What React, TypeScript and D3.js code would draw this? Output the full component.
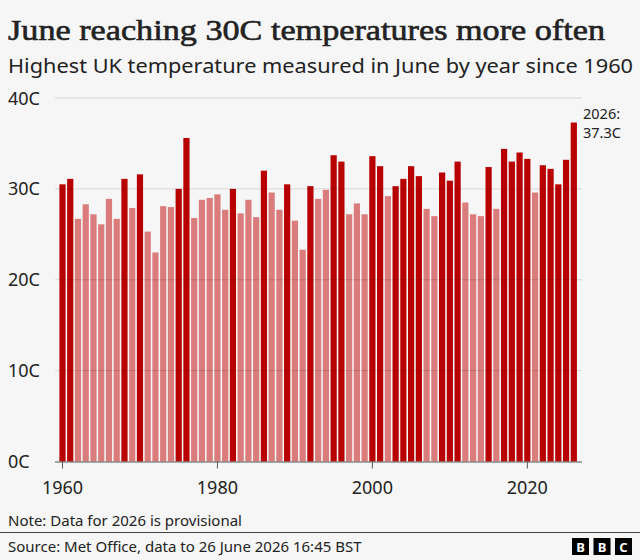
import { useEffect, useRef } from 'react';
import * as d3 from 'd3';

// years 1960 -> 2026
const years: number[] = d3.range(1960, 2027);

// highest June temperature per year (C)
const temps: number[] = [
  30.5, 31.1, 26.7, 28.3, 27.2, 26.1, 28.9, 26.7, 31.1, 27.9,
  31.6, 25.3, 23.0, 28.1, 28.0, 30.0, 35.6, 26.8, 28.8, 29.0,
  29.4, 27.7, 30.0, 27.3, 28.8, 26.9, 32.0, 29.6, 27.7, 30.5,
  26.5, 23.3, 30.3, 28.9, 29.9, 33.7, 33.0, 27.2, 28.4, 27.2,
  33.6, 32.5, 29.2, 30.3, 31.1, 32.5, 31.4, 27.8, 27.0, 31.8,
  30.9, 33.0, 28.5, 27.2, 27.0, 32.4, 27.8, 34.4, 33.0, 34.0,
  33.3, 29.6, 32.6, 32.2, 30.5, 33.2, 37.3,
];

const yTicks: number[] = [0, 10, 20, 30, 40];
const xTicks: number[] = [1960, 1980, 2000, 2020];

const SANS = '"Noto Sans", "DejaVu Sans", sans-serif';

function App() {
  const svgRef = useRef<SVGSVGElement>(null);

  useEffect(() => {
    const W = 640;
    const H = 560;
    const svg = d3.select(svgRef.current).attr('width', W).attr('height', H);
    svg.selectAll('*').remove();

    svg.append('rect').attr('width', W).attr('height', H).attr('fill', '#f6f6f6');

    // titles
    svg
      .append('text')
      .attr('x', 8)
      .attr('y', 40)
      .attr('font-family', '"Liberation Serif", "DejaVu Serif", serif')
      .attr('font-size', 30)
      .attr('fill', '#222')
      .attr('stroke', '#222')
      .attr('stroke-width', 0.6)
      .attr('textLength', 597)
      .attr('lengthAdjust', 'spacingAndGlyphs')
      .text('June reaching 30C temperatures more often');

    svg
      .append('text')
      .attr('x', 8)
      .attr('y', 73)
      .attr('font-family', SANS)
      .attr('font-size', 20)
      .attr('fill', '#222')
      .attr('textLength', 625)
      .attr('lengthAdjust', 'spacingAndGlyphs')
      .text('Highest UK temperature measured in June by year since 1960');

    const x = d3
      .scaleBand<number>()
      .domain(years)
      .range([59, 577.3])
      .paddingInner(0.2)
      .paddingOuter(0.05);

    const y = d3.scaleLinear().domain([0, 40]).range([461.5, 98]);

    // bars
    svg
      .append('g')
      .selectAll('rect')
      .data(years)
      .enter()
      .append('rect')
      .attr('x', d => x(d)!)
      .attr('width', x.bandwidth())
      .attr('y', (d, i) => y(temps[i]))
      .attr('height', (d, i) => y(0) - y(temps[i]))
      .attr('fill', (d, i) => (temps[i] >= 30 ? '#b80000' : '#db7c7c'));

    // gridlines on top of bars, faint
    svg
      .append('g')
      .selectAll('line')
      .data(yTicks.filter(t => t > 0))
      .enter()
      .append('line')
      .attr('x1', 55)
      .attr('x2', 582)
      .attr('y1', d => y(d))
      .attr('y2', d => y(d))
      .attr('stroke', 'rgba(0,0,0,0.12)')
      .attr('stroke-width', 1);

    // y labels
    svg
      .append('g')
      .selectAll('text')
      .data(yTicks)
      .enter()
      .append('text')
      .attr('x', 8)
      .attr('y', d => y(d) + 6.5)
      .attr('font-family', SANS)
      .attr('font-size', 18)
      .attr('fill', '#222')
      .text(d => `${d}C`);

    // x axis
    const axis = svg.append('g');
    axis
      .append('line')
      .attr('x1', 55)
      .attr('x2', 582)
      .attr('y1', y(0) + 0.5)
      .attr('y2', y(0) + 0.5)
      .attr('stroke', '#555')
      .attr('stroke-width', 1.2);
    const tx = (d: number) => x(d)! + x.bandwidth() / 2;
    axis
      .selectAll('line.tick')
      .data(xTicks)
      .enter()
      .append('line')
      .attr('class', 'tick')
      .attr('x1', tx)
      .attr('x2', tx)
      .attr('y1', y(0))
      .attr('y2', y(0) + 7)
      .attr('stroke', '#555');
    axis
      .selectAll('text')
      .data(xTicks)
      .enter()
      .append('text')
      .attr('x', tx)
      .attr('y', 494)
      .attr('text-anchor', 'middle')
      .attr('font-family', SANS)
      .attr('font-size', 18)
      .attr('fill', '#222')
      .text(d => d);

    // annotation for last bar
    const last = temps[temps.length - 1];
    svg
      .append('text')
      .attr('x', 583)
      .attr('y', 119)
      .attr('font-family', SANS)
      .attr('font-size', 14.5)
      .attr('fill', '#222')
      .text(`${years[years.length - 1]}:`);
    svg
      .append('text')
      .attr('x', 583)
      .attr('y', 138)
      .attr('font-family', SANS)
      .attr('font-size', 14.5)
      .attr('fill', '#222')
      .text(`${last}C`);

    // footer
    svg
      .append('text')
      .attr('x', 8)
      .attr('y', 526)
      .attr('font-family', SANS)
      .attr('font-size', 15)
      .attr('fill', '#222')
      .text('Note: Data for 2026 is provisional');

    svg
      .append('line')
      .attr('x1', 0)
      .attr('x2', W)
      .attr('y1', 532.5)
      .attr('y2', 532.5)
      .attr('stroke', '#444')
      .attr('stroke-width', 1);

    svg
      .append('text')
      .attr('x', 8)
      .attr('y', 552)
      .attr('font-family', SANS)
      .attr('font-size', 15)
      .attr('fill', '#222')
      .text('Source: Met Office, data to 26 June 2026 16:45 BST');

    // BBC blocks
    const logo = svg.append('g');
    ['B', 'B', 'C'].forEach((letter, i) => {
      const bx = 572 + i * 21.5;
      logo
        .append('rect')
        .attr('x', bx)
        .attr('y', 538)
        .attr('width', 17)
        .attr('height', 17)
        .attr('fill', '#000');
      logo
        .append('text')
        .attr('x', bx + 8.5)
        .attr('y', 552)
        .attr('text-anchor', 'middle')
        .attr('font-family', SANS)
        .attr('font-weight', 700)
        .attr('font-size', 13)
        .attr('fill', '#fff')
        .text(letter);
    });
  }, []);

  return (
    <div style={{ position: 'fixed', left: 0, top: 0 }}>
      <svg ref={svgRef} style={{ display: 'block' }} />
    </div>
  );
}

export default App;
